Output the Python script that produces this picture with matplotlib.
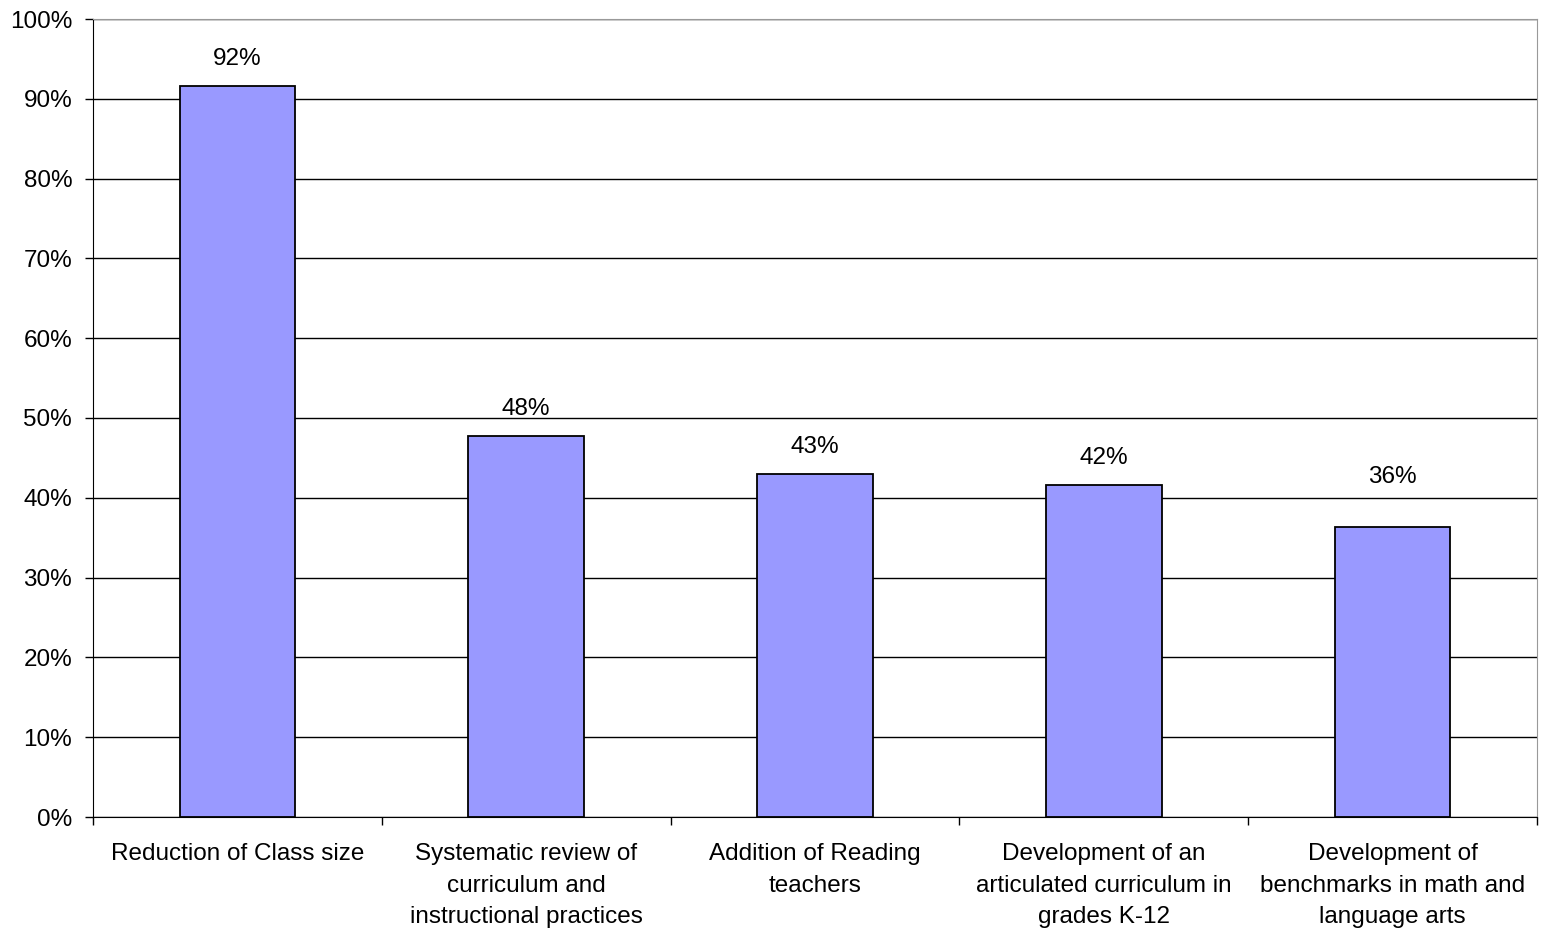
import numpy as np
import matplotlib
matplotlib.use('Agg')
import matplotlib.pyplot as plt
from matplotlib.ticker import PercentFormatter

plt.rcParams['font.family'] = ['Liberation Sans', 'DejaVu Sans']

categories = ['Reduction of Class size',
              'Systematic review of\ncurriculum and\ninstructional practices',
              'Addition of Reading\nteachers',
              'Development of an\narticulated curriculum in\ngrades K-12',
              'Development of\nbenchmarks in math and\nlanguage arts']
values = [0.916, 0.477, 0.430, 0.416, 0.363]

fig = plt.figure(figsize=(15.41, 9.33), dpi=100)
ax = fig.add_axes([93/1541, 1-817/933, 1444/1541, 798/933])

x = np.arange(len(categories))
bars = ax.bar(x, values, width=0.4, color='#9999FF', edgecolor='black', linewidth=1.3, zorder=3)

# the last label sits higher above its bar in the original
label_gap = [0.02, 0.02, 0.02, 0.02, 0.049]
for xi, v, g in zip(x, values, label_gap):
    ax.text(xi, v + g, '%d%%' % round(v * 100), ha='center', va='bottom', fontsize=17.5)

ax.set_xlim(-0.5, len(categories) - 0.5)
ax.set_ylim(0, 1)
ax.set_yticks(np.arange(0, 1.01, 0.1))
ax.yaxis.set_major_formatter(PercentFormatter(1.0, decimals=0))
ax.yaxis.grid(True, color='black', linewidth=1)
ax.set_axisbelow(True)

ax.set_xticks(x)
ax.set_xticklabels(categories, fontsize=17.5, linespacing=1.55)
ax.set_xticks(np.arange(-0.5, len(categories)), minor=True)
ax.tick_params(axis='x', which='major', length=0, pad=19)
ax.tick_params(axis='x', which='minor', length=6, width=1)
ax.tick_params(axis='y', labelsize=17.5, length=6, width=1, pad=9)

for s in ['top', 'right']:
    ax.spines[s].set_color('#999999')
for s in ['left', 'bottom']:
    ax.spines[s].set_color('black')

fig.savefig('out.png', dpi=100)
